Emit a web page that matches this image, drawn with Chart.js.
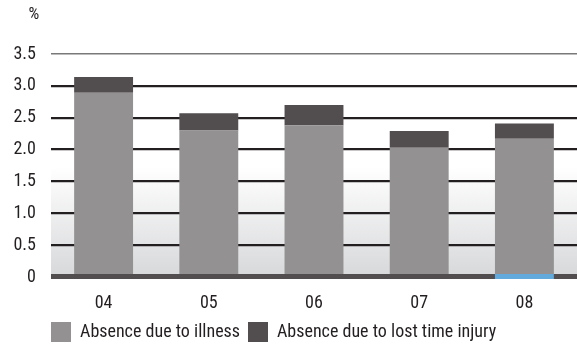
<!DOCTYPE html>
<html>
<head>
<meta charset="utf-8">
<script src="https://cdn.jsdelivr.net/npm/chart.js@4"></script>
<style>
  body { margin: 0; background: #fff; }
</style>
</head>
<body>
<canvas id="absence" width="577" height="346"></canvas>
<script>
const years = ['04', '05', '06', '07', '08'];
const illness = [2.89, 2.30, 2.38, 2.03, 2.17];
const injury = [0.25, 0.27, 0.32, 0.26, 0.24];
const yTickLabels = ['0', '0.5', '1.0', '1.5', '2.0', '2.5', '3.0', '3.5'];
const seriesNames = ['Absence due to illness', 'Absence due to lost time injury'];
const unitLabel = '%';

const fontFamily = "'Liberation Sans Narrow', 'Roboto Condensed', 'DejaVu Sans Condensed', 'Liberation Sans', sans-serif";
const textColor = '#231f20';
const legendGap = 8;

// background shading, thick base line, highlighted last year and the % label
const decor = {
  id: 'decor',
  afterLayout(chart) {
    // legend starts flush with the plot area
    chart.legend.left = chart.chartArea.left - legendGap;
  },
  beforeDraw(chart) {
    const ctx = chart.ctx;
    const area = chart.chartArea;
    const y = chart.scales.y;
    const top = y.getPixelForValue(1.72);
    const grad = ctx.createLinearGradient(0, top, 0, area.bottom);
    grad.addColorStop(0, '#ffffff');
    grad.addColorStop(1, '#d7d8da');
    ctx.save();
    ctx.fillStyle = grad;
    ctx.fillRect(area.left, top, area.right - area.left, area.bottom - top);
    ctx.restore();
  },
  afterDatasetsDraw(chart) {
    const ctx = chart.ctx;
    const area = chart.chartArea;
    ctx.save();
    ctx.fillStyle = '#524d4f';
    ctx.fillRect(area.left, area.bottom - 3, area.right - area.left, 5);
    const last = chart.getDatasetMeta(0).data[years.length - 1];
    ctx.fillStyle = '#62aadb';
    ctx.fillRect(last.x - last.width / 2, area.bottom - 3, last.width, 5);
    ctx.fillStyle = textColor;
    ctx.font = '17px ' + fontFamily;
    ctx.textAlign = 'center';
    ctx.textBaseline = 'middle';
    ctx.fillText(unitLabel, 34, 15);
    ctx.restore();
  }
};

const data = {
  labels: years,
  datasets: [
    {
      label: seriesNames[0],
      data: illness,
      backgroundColor: '#939191',
      barPercentage: 0.56,
      categoryPercentage: 1
    },
    {
      label: seriesNames[1],
      data: injury,
      backgroundColor: '#524d4f',
      barPercentage: 0.56,
      categoryPercentage: 1
    }
  ]
};

const config = {
  type: 'bar',
  data: data,
  plugins: [decor],
  options: {
    responsive: false,
    animation: false,
    layout: { padding: { top: 54, right: 0, bottom: -6, left: 0 } },
    scales: {
      x: {
        stacked: true,
        grid: { display: false },
        border: { display: false },
        ticks: { color: textColor, font: { family: fontFamily, size: 18 }, padding: 8 },
        afterFit(scale) { scale.height = 37; }
      },
      y: {
        stacked: true,
        min: 0,
        max: 3.5,
        border: { display: false },
        grid: {
          drawTicks: false,
          color: c => c.tick.value === 0 ? 'rgba(0,0,0,0)' : (c.tick.value === 3.5 ? '#7a7878' : '#231f20'),
          lineWidth: c => c.tick.value === 3.5 ? 1.5 : 2.2
        },
        ticks: {
          stepSize: 0.5,
          color: textColor,
          padding: 15,
          font: { family: fontFamily, size: 18 },
          callback: (v, i) => yTickLabels[i]
        },
        afterFit(scale) { scale.width = 51; }
      }
    },
    plugins: {
      tooltip: { enabled: false },
      legend: {
        position: 'bottom',
        align: 'start',
        fullSize: false,
        labels: {
          boxWidth: 20,
          boxHeight: 20,
          padding: legendGap,
          color: textColor,
          font: { family: fontFamily, size: 18 }
        }
      }
    }
  }
};

new Chart(document.getElementById('absence'), config);
</script>
</body>
</html>
